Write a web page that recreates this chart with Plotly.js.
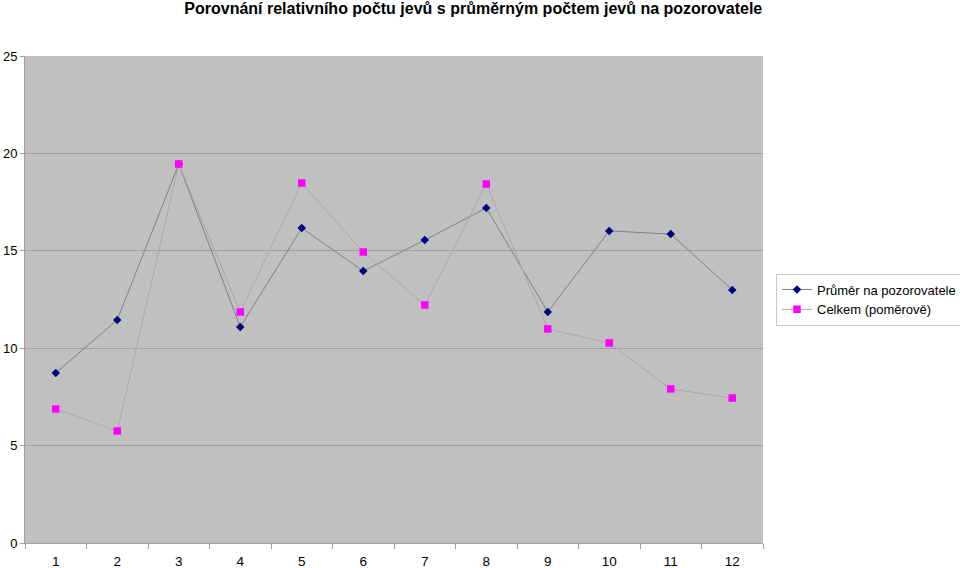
<!DOCTYPE html>
<html><head><meta charset="utf-8">
<script src="https://cdn.plot.ly/plotly-3.0.1.min.js"></script>
<style>body{margin:0;padding:0;background:#fff}#c{width:960px;height:568px}</style>
</head><body><div id="c"></div>
<script>
const categories = ['1','2','3','4','5','6','7','8','9','10','11','12'];
const prumer = [8.73, 11.45, 19.45, 11.09, 16.17, 13.96, 15.55, 17.2, 11.86, 16.02, 15.86, 12.99];
const celkem = [6.88, 5.75, 19.46, 11.86, 18.48, 14.94, 12.22, 18.43, 10.99, 10.27, 7.91, 7.44];
const seriesNames = ['Průměr na pozorovatele', 'Celkem (poměrově)'];
const titleText = 'Porovnání relativního počtu jevů s průměrným počtem jevů na pozorovatele';

const traces = [
  {x: categories, y: prumer, name: seriesNames[0], type: 'scatter', mode: 'lines+markers',
   line: {color: '#808080', width: 1}, marker: {symbol: 'diamond', color: '#000080', size: 6.5}},
  {x: categories, y: celkem, name: seriesNames[1], type: 'scatter', mode: 'lines+markers',
   line: {color: '#b8a0b8', width: 1}, marker: {symbol: 'square', color: '#ff00ff', size: 7.5}}
];
const layout = {
  width: 960, height: 568,
  margin: {l: 25, r: 197, t: 56, b: 25, pad: 0, autoexpand: false},
  paper_bgcolor: '#ffffff', plot_bgcolor: '#c0c0c0',
  font: {family: 'Liberation Sans, Arial, sans-serif', size: 13, color: '#000'},
  title: {text: '<b>' + titleText + '</b>', x: 0.493, xanchor: 'center', y: 0.995, yanchor: 'top',
          font: {size: 16, color: '#000'}},
  showlegend: true,
  legend: {x: 1.0176, xanchor: 'left', y: 0.5, yanchor: 'middle', bgcolor: '#ffffff',
           bordercolor: '#c8c8c8', borderwidth: 1, font: {size: 13}, tracegroupgap: 0, itemwidth: 30},
  xaxis: {type: 'category', range: [-0.5, 11.5], autorange: false, tickson: 'boundaries', ticks: 'outside',
          ticklen: 5, tickcolor: '#a0a0a0',
          showgrid: false, showline: true, linecolor: '#a0a0a0', linewidth: 1, zeroline: false,
          tickfont: {size: 13.5}, ticklabelstandoff: 6, fixedrange: true},
  yaxis: {range: [0, 25], autorange: false, dtick: 5, ticks: 'outside', ticklen: 4, tickcolor: '#a0a0a0',
          showgrid: true, gridcolor: '#a0a0a0', gridwidth: 1, showline: true, linecolor: '#a0a0a0',
          zeroline: false, tickfont: {size: 13}, ticklabelstandoff: 0, fixedrange: true}
};
Plotly.newPlot('c', traces, layout, {displayModeBar: false, staticPlot: true});
</script>
</body></html>
